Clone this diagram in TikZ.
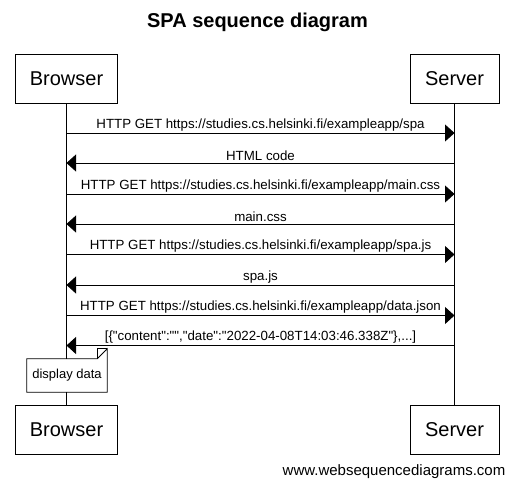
\documentclass[tikz,border=0pt]{standalone}
\usepackage{fontspec}
\setmainfont{Liberation Sans}[Ligatures=TeXOff]
\usetikzlibrary{arrows.meta}

\newcommand{\msgfont}{\fontsize{13.3}{15}\selectfont}

\tikzset{
  actor/.style={draw, line width=0.8pt, minimum height=49pt, inner sep=0pt, font=\fontsize{20}{24}\selectfont},
  lifeline/.style={line width=0.8pt},
  msg/.style={line width=0.8pt, -{Triangle[length=9.5pt, width=17pt]}},
  lbl/.style={above, inner sep=1.5pt, font=\msgfont},
  notebox/.style={fill=white, minimum width=80pt, minimum height=33pt, inner sep=0pt, font=\fontsize{13}{15}\selectfont}
}

\begin{document}
\begin{tikzpicture}[x=1pt, y=-1pt]

\useasboundingbox[fill=white] (0,0) rectangle (514,488);

\node[font=\fontsize{20}{24}\selectfont\bfseries] (title) at (257.5,22) {SPA sequence diagram};

% actors
\node[actor, minimum width=102pt] (browserTop) at (66.5,78.5) {Browser};
\node[actor, minimum width=89pt] (serverTop) at (454.5,78.5) {Server};
\node[actor, minimum width=102pt] (browserBot) at (66.5,429.5) {Browser};
\node[actor, minimum width=89pt] (serverBot) at (454.5,429.5) {Server};

\draw[lifeline] (browserTop) -- (browserBot);
\draw[lifeline] (serverTop) -- (serverBot);

% message ends on the lifelines
\coordinate (b1) at (66.5,133);   \coordinate (s1) at (454.5,133);
\coordinate (b2) at (66.5,163);   \coordinate (s2) at (454.5,163);
\coordinate (b3) at (66.5,194);   \coordinate (s3) at (454.5,194);
\coordinate (b4) at (66.5,224);   \coordinate (s4) at (454.5,224);
\coordinate (b5) at (66.5,254.5); \coordinate (s5) at (454.5,254.5);
\coordinate (b6) at (66.5,285);   \coordinate (s6) at (454.5,285);
\coordinate (b7) at (66.5,315.5); \coordinate (s7) at (454.5,315.5);
\coordinate (b8) at (66.5,345.5); \coordinate (s8) at (454.5,345.5);

\draw[msg] (b1) -- node[lbl]{HTTP GET https://studies.cs.helsinki.fi/exampleapp/spa} (s1);
\draw[msg] (s2) -- node[lbl]{HTML code} (b2);
\draw[msg] (b3) -- node[lbl]{HTTP GET https://studies.cs.helsinki.fi/exampleapp/main.css} (s3);
\draw[msg] (s4) -- node[lbl]{main.css} (b4);
\draw[msg] (b5) -- node[lbl]{HTTP GET https://studies.cs.helsinki.fi/exampleapp/spa.js} (s5);
\draw[msg] (s6) -- node[lbl]{spa.js} (b6);
\draw[msg] (b7) -- node[lbl]{HTTP GET https://studies.cs.helsinki.fi/exampleapp/data.json} (s7);
\draw[msg] (s8) -- node[lbl]{[\{"content":"","date":"2022-04-08T14:03:46.338Z"\},...]} (b8);

% note
\node[notebox] (display) at (67,375.5) {display data};
\draw[line width=0.8pt] (display.south west) -- (display.north west)
  -- ([xshift=-10pt]display.north east) -- ([yshift=10pt]display.north east)
  -- (display.south east) -- cycle;
\draw[line width=0.8pt] ([xshift=-10pt]display.north east) -- ([xshift=-10pt,yshift=10pt]display.north east)
  -- ([yshift=10pt]display.north east);

\node[font=\fontsize{15}{17}\selectfont] (credit) at (394,472) {www.websequencediagrams.com};

\end{tikzpicture}
\end{document}
